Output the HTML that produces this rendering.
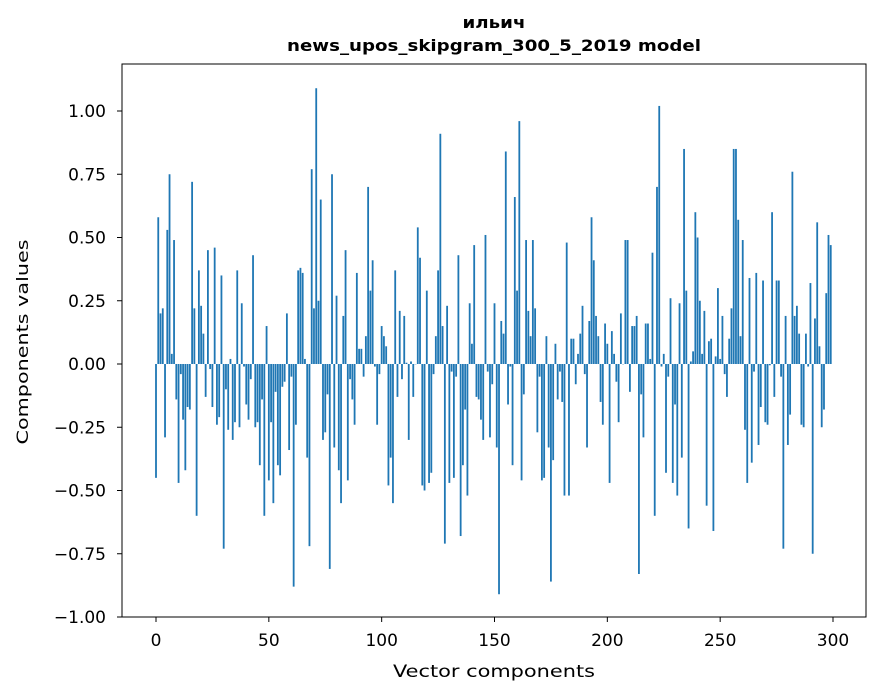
<!DOCTYPE html>
<html><head><meta charset="utf-8"><style>
html,body{margin:0;padding:0;background:#fff;}
svg{display:block;font-family:"DejaVu Sans","Liberation Sans",sans-serif;}
</style></head><body>
<svg id="chart" width="880" height="696" viewBox="0 0 880 696">
<rect width="880" height="696" fill="#fff"/>
<text x="494" y="28" text-anchor="middle" font-size="16" font-weight="bold" textLength="63" lengthAdjust="spacingAndGlyphs">ильич</text>
<text x="494" y="51" text-anchor="middle" font-size="16" font-weight="bold" textLength="414" lengthAdjust="spacingAndGlyphs">news_upos_skipgram_300_5_2019 model</text>
<g id="bars"></g>
<g id="xticks"></g>
<g id="yticks"></g>
<rect x="122" y="64" width="744" height="553" fill="none" stroke="#000" stroke-width="1"/>
<text x="494" y="677" text-anchor="middle" font-size="17" textLength="202" lengthAdjust="spacingAndGlyphs">Vector components</text>
<text transform="translate(28,342) rotate(-90)" text-anchor="middle" font-size="16" textLength="205" lengthAdjust="spacingAndGlyphs">Components values</text>
</svg>
<script>
const values = [
-0.45,0.58,0.20,0.22,-0.29,0.53,0.75,0.04,0.49,-0.14,
-0.47,-0.04,-0.22,-0.42,-0.17,-0.18,0.72,0.22,-0.60,0.37,
0.23,0.12,-0.13,0.45,-0.02,-0.17,0.46,-0.24,-0.21,0.35,
-0.73,-0.10,-0.26,0.02,-0.30,-0.23,0.37,-0.25,0.24,-0.01,
-0.16,-0.22,-0.06,0.43,-0.25,-0.23,-0.40,-0.14,-0.60,0.15,
-0.46,-0.23,-0.55,-0.11,-0.40,-0.44,-0.09,-0.07,0.20,-0.34,
-0.05,-0.88,-0.24,0.37,0.38,0.36,0.02,-0.37,-0.72,0.77,
0.22,1.09,0.25,0.65,-0.30,-0.27,-0.12,-0.81,0.75,-0.33,
0.27,-0.42,-0.55,0.19,0.45,-0.46,-0.06,-0.14,-0.24,0.36,
0.06,0.06,-0.05,0.11,0.70,0.29,0.41,-0.01,-0.24,-0.04,
0.15,0.11,0.07,-0.48,-0.37,-0.55,0.37,-0.13,0.21,-0.06,
0.19,0.005,-0.30,0.01,-0.13,0.00,0.54,0.42,-0.48,-0.50,
0.29,-0.47,-0.43,-0.04,0.11,0.37,0.91,0.15,-0.71,0.23,
-0.47,-0.03,-0.45,-0.05,0.43,-0.68,-0.40,-0.18,-0.52,0.24,
0.08,0.47,-0.13,-0.14,-0.22,-0.30,0.51,-0.03,-0.29,-0.08,
0.24,-0.33,-0.91,0.17,0.12,0.84,-0.16,-0.01,-0.40,0.66,
0.29,0.96,-0.46,-0.12,0.49,0.21,0.11,0.49,0.22,-0.27,
-0.05,-0.46,-0.45,0.11,-0.33,-0.86,-0.38,0.08,-0.14,-0.03,
-0.15,-0.52,0.48,-0.52,0.10,0.10,-0.08,0.04,0.12,0.23,
-0.04,-0.33,0.17,0.58,0.41,0.19,0.11,-0.15,-0.24,0.16,
0.08,-0.47,0.13,0.04,-0.07,-0.23,0.20,0.00,0.49,0.49,
-0.11,0.15,0.15,0.19,-0.83,-0.12,-0.29,0.16,0.16,0.02,
0.44,-0.60,0.70,1.02,-0.01,0.04,-0.43,-0.05,0.26,-0.47,
-0.16,-0.52,0.24,-0.37,0.85,0.29,-0.65,0.01,0.05,0.60,
0.50,0.25,0.04,0.21,-0.56,0.09,0.10,-0.66,0.03,0.30,
0.02,0.19,-0.04,-0.13,0.10,0.22,0.85,0.85,0.57,0.11,
0.49,-0.26,-0.47,0.34,-0.39,-0.03,0.36,-0.32,-0.17,0.33,
-0.23,-0.24,-0.005,0.60,-0.13,0.33,0.33,-0.05,-0.73,0.19,
-0.32,-0.20,0.76,0.19,0.23,0.12,-0.24,-0.25,0.12,-0.01,
0.32,-0.75,0.18,0.56,0.07,-0.25,-0.18,0.28,0.51,0.47
];
const xTickValues = [0,50,100,150,200,250,300];
const xTickLabels = ["0","50","100","150","200","250","300"];
const yTickValues = [-1.0,-0.75,-0.5,-0.25,0,0.25,0.5,0.75,1.0];
const yTickLabels = ["\u22121.00","\u22120.75","\u22120.50","\u22120.25","0.00","0.25","0.50","0.75","1.00"];

const NS = "http://www.w3.org/2000/svg";
function xs(v){ return 156 + v * (677/300); }
function ys(v){ return 364 - v * 253; }
const bw = 0.8 * (677/300);

const bars = document.getElementById('bars');
values.forEach((v, i) => {
  const r = document.createElementNS(NS, 'rect');
  const y0 = ys(0), y1 = ys(v);
  r.setAttribute('x', xs(i) - bw/2);
  r.setAttribute('y', Math.min(y0, y1));
  r.setAttribute('width', bw);
  r.setAttribute('height', Math.max(Math.abs(y1 - y0), 0.3));
  r.setAttribute('fill', '#1f77b4');
  
  
  bars.appendChild(r);
});

const xt = document.getElementById('xticks');
xTickValues.forEach((v, i) => {
  const l = document.createElementNS(NS, 'line');
  l.setAttribute('x1', xs(v)); l.setAttribute('x2', xs(v));
  l.setAttribute('y1', 617); l.setAttribute('y2', 622);
  l.setAttribute('stroke', '#000');
  
  
  xt.appendChild(l);
  const t = document.createElementNS(NS, 'text');
  t.setAttribute('x', xs(v)); t.setAttribute('y', 646);
  t.setAttribute('text-anchor', 'middle'); t.setAttribute('font-size', '17');
  t.textContent = xTickLabels[i];
  
  
  xt.appendChild(t);
});

const yt = document.getElementById('yticks');
yTickValues.forEach((v, i) => {
  const l = document.createElementNS(NS, 'line');
  l.setAttribute('x1', 117); l.setAttribute('x2', 122);
  l.setAttribute('y1', ys(v)); l.setAttribute('y2', ys(v));
  l.setAttribute('stroke', '#000');
  
  
  yt.appendChild(l);
  const t = document.createElementNS(NS, 'text');
  t.setAttribute('x', 106); t.setAttribute('y', ys(v) + 6);
  t.setAttribute('text-anchor', 'end'); t.setAttribute('font-size', '17');
  t.textContent = yTickLabels[i];
  
  
  yt.appendChild(t);
});
</script>
</body></html>
